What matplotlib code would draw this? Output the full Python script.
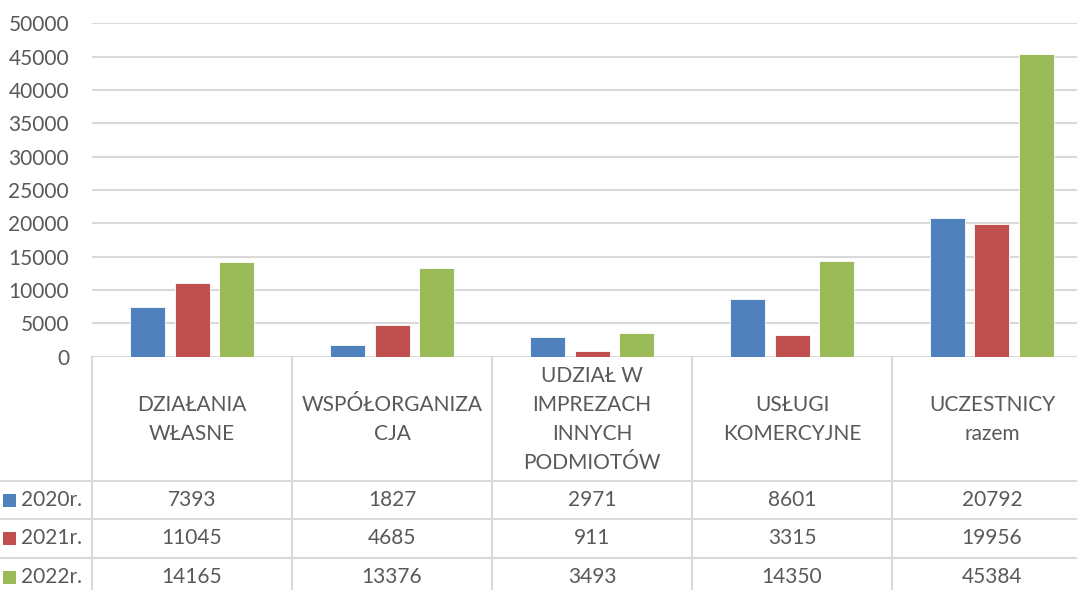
import matplotlib
matplotlib.use("Agg")
import matplotlib.pyplot as plt
import matplotlib.transforms as mtransforms
from matplotlib.lines import Line2D
from matplotlib.patches import Rectangle
import numpy as np

categories = ["DZIAŁANIA\nWŁASNE", "WSPÓŁORGANIZA\nCJA", "UDZIAŁ W\nIMPREZACH\nINNYCH\nPODMIOTÓW",
              "USŁUGI\nKOMERCYJNE", "UCZESTNICY\nrazem"]
series_names = ["2020r.", "2021r.", "2022r."]
v2020 = [7393, 1827, 2971, 8601, 20792]
v2021 = [11045, 4685, 911, 3315, 19956]
v2022 = [14165, 13376, 3493, 14350, 45384]
series = [v2020, v2021, v2022]
colors = ["#4F81BD", "#C0504D", "#9BBB59"]
yticks = [0, 5000, 10000, 15000, 20000, 25000, 30000, 35000, 40000, 45000, 50000]

plt.rcParams['font.family'] = ['Lato', 'DejaVu Sans']
TXT = "#595959"
GRID = "#D9D9D9"
FS = 15.0

W, H = 1077, 590
fig = plt.figure(figsize=(W / 100, H / 100), dpi=100)

ax_left, ax_right = 92, 1092
ax_top, ax_bot = 23.3, 356.7
ax = fig.add_axes([ax_left / W, 1 - ax_bot / H, (ax_right - ax_left) / W, (ax_bot - ax_top) / H])
ax.set_xlim(0, len(categories))
ax.set_ylim(0, 50000)
ax.set_yticks(yticks)
ax.set_yticklabels([str(t) for t in yticks], fontsize=FS, color=TXT)
ax.tick_params(axis='y', length=0, pad=16.5)
ax.set_xticks([])
for s in ax.spines.values():
    s.set_visible(False)
ax.grid(axis='y', color=GRID, linewidth=1.5)
ax.set_axisbelow(True)

x = np.arange(len(categories)) + 0.5
bw = 0.175
step = 0.2225
for i, (vals, c) in enumerate(zip(series, colors)):
    ax.bar(x + (i - 1) * step, vals, width=bw, color=c, edgecolor='white', linewidth=0.6, zorder=3)

# table
def fy(py):
    return 1 - py / H

trans = mtransforms.blended_transform_factory(ax.transData, fig.transFigure)
row_lines = [480.5, 519, 557.5]
for ry in row_lines:
    fig.add_artist(Line2D([0, 1], [fy(ry), fy(ry)], transform=fig.transFigure, color=GRID, lw=1.5))
for k in range(len(categories) + 1):
    fig.add_artist(Line2D([k, k], [fy(ax_bot), fy(H + 5)], transform=trans, color=GRID, lw=1.5, clip_on=False))

header_c = (ax_bot + row_lines[0]) / 2 + 1
for xi, cat in zip(x, categories):
    fig.text(xi, fy(header_c), cat, transform=trans, ha='center', va='center',
             fontsize=FS, color=TXT, linespacing=1.56, multialignment='center')

row_centers = [500, 538.5, 577]
for name, vals, c, rc in zip(series_names, series, colors, row_centers):
    fig.add_artist(Rectangle((3 / W, fy(rc + 6.5)), 13 / W, 13 / H, transform=fig.transFigure,
                             color=c, lw=0))
    fig.text(21 / W, fy(rc), name, ha='left', va='center', fontsize=FS, color=TXT)
    for xi, v in zip(x, vals):
        fig.text(xi, fy(rc), str(v), transform=trans, ha='center', va='center', fontsize=FS, color=TXT)

fig.savefig("out.png", dpi=100)
